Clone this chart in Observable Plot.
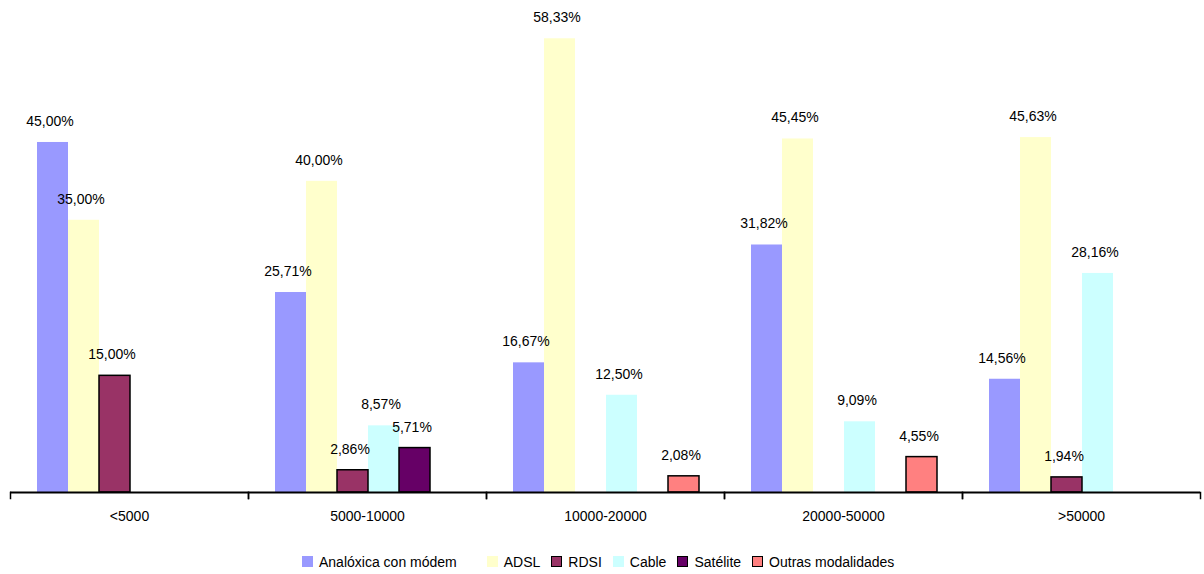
<!DOCTYPE html>
<html><head><meta charset="utf-8">
<script src="https://cdn.jsdelivr.net/npm/d3@7"></script>
<script src="https://cdn.jsdelivr.net/npm/@observablehq/plot@0.6"></script>
<style>
body{margin:0;background:#fff;font-family:"Liberation Sans",Arial,sans-serif;}
#chart{width:1204px;height:545px;}
#legend{display:flex;align-items:center;height:29px;box-sizing:border-box;padding-top:4px;padding-left:302px;font-size:14px;color:#000;line-height:14px;}
.item{display:flex;align-items:center;margin-right:11px;}
.item:first-child{margin-right:30px;}
.sw{width:11px;height:11px;margin-right:6px;box-sizing:border-box;}
</style></head>
<body><div id="chart"></div><div id="legend"></div>
<script>
const categories = ["<5000", "5000-10000", "10000-20000", "20000-50000", ">50000"];
const seriesNames = ["Analóxica con módem", "ADSL", "RDSI", "Cable", "Satélite", "Outras modalidades"];
const analoxica = [45.00, 25.71, 16.67, 31.82, 14.56];
const adsl      = [35.00, 40.00, 58.33, 45.45, 45.63];
const rdsi      = [15.00, 2.86, 0, 0, 1.94];
const cable     = [0, 8.57, 12.50, 9.09, 28.16];
const satelite  = [0, 5.71, 0, 0, 0];
const outras    = [0, 0, 2.08, 4.55, 0];
const colors = ["#9999FF", "#FFFFCC", "#993366", "#CCFFFF", "#660066", "#FF8080"];
const outlinedSeries = ["RDSI", "Satélite", "Outras modalidades"];

const seriesValues = [analoxica, adsl, rdsi, cable, satelite, outras];
const rows = [];
categories.forEach((c, i) => seriesNames.forEach((s, j) => {
  const v = seriesValues[j][i];
  if (v > 0) rows.push({cat: c, series: s, value: v});
}));
const fmt = v => d3.format(".2f")(v).replace(".", ",") + "%";

const W = 1204, H = 545, mL = 10, mR = 4, mT = 25.3, mB = 53;
const chart = Plot.plot({
  width: W, height: H,
  marginLeft: mL, marginRight: mR, marginTop: mT, marginBottom: mB,
  style: {fontFamily: "'Liberation Sans', Arial, sans-serif", fontSize: "14px", color: "#000", background: "#fff"},
  fx: {domain: categories, padding: 0, label: null},
  x: {domain: seriesNames, padding: 0, insetLeft: 25, insetRight: 24, axis: null},
  y: {domain: [0, 60], axis: null},
  color: {domain: seriesNames, range: colors},
  marks: [
    Plot.barY(rows.filter(d => !outlinedSeries.includes(d.series)), {fx: "cat", x: "series", y: "value", fill: "series"}),
    Plot.barY(rows.filter(d => outlinedSeries.includes(d.series)), {fx: "cat", x: "series", y: "value", fill: "series", stroke: "#000", strokeWidth: 1.5}),
    Plot.ruleY([0], {stroke: "#000", strokeWidth: 2}),
    Plot.frame({anchor: "left", insetTop: H - mT - mB, insetBottom: -6, stroke: "#000", strokeWidth: 1.5}),
    Plot.frame({anchor: "right", insetTop: H - mT - mB, insetBottom: -6, stroke: "#000", strokeWidth: 1.5}),
    Plot.axisFx({anchor: "bottom", tickSize: 0, tickPadding: 19, fontSize: 14, label: null}),
    Plot.text(rows, {fx: "cat", x: "series", y: "value", text: d => fmt(d.value), dy: -21, dx: -3, fontSize: 14, fill: "#000"})
  ]
});
document.getElementById("chart").appendChild(chart);

const legend = document.getElementById("legend");
seriesNames.forEach((s, j) => {
  const item = document.createElement("div");
  item.className = "item";
  const sw = document.createElement("div");
  sw.className = "sw";
  sw.style.background = colors[j];
  if (outlinedSeries.includes(s)) sw.style.border = "1.5px solid #000";
  const t = document.createElement("span");
  t.textContent = s;
  item.appendChild(sw); item.appendChild(t);
  legend.appendChild(item);
});
</script>
</body></html>
